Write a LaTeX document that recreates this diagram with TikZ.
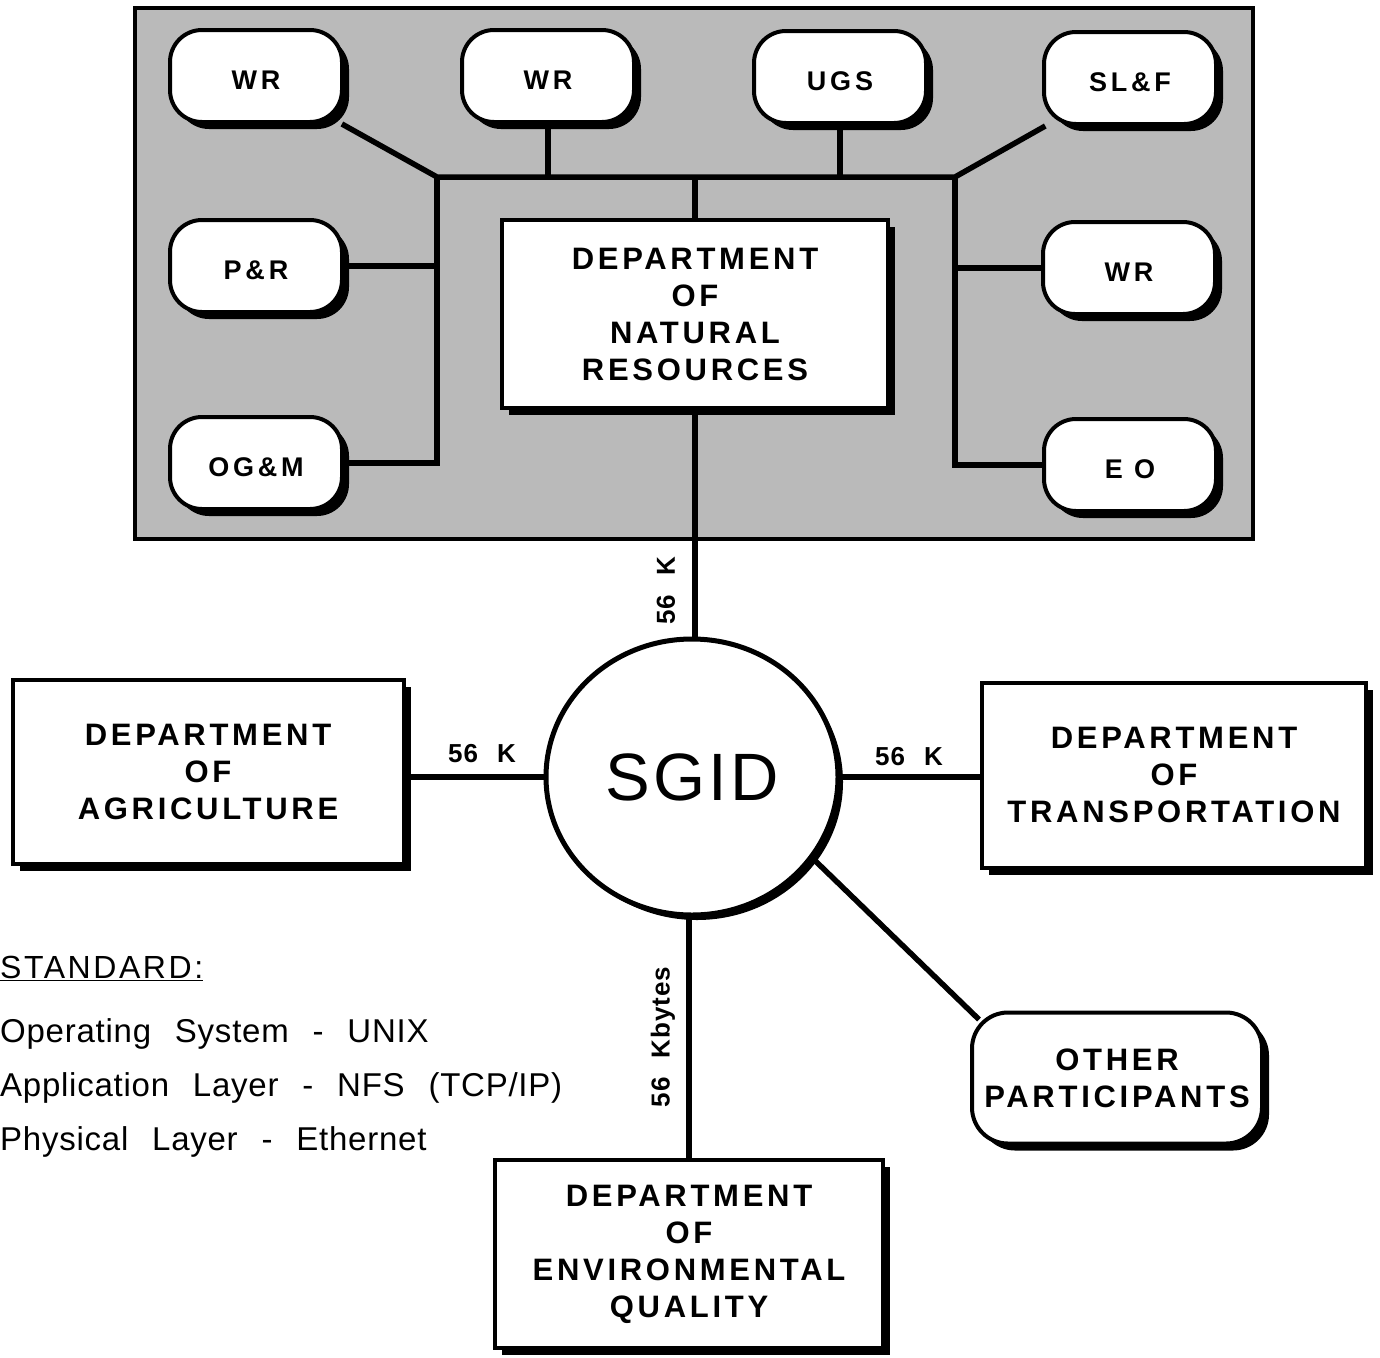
\documentclass[tikz,border=0pt]{standalone}
\usepackage{fontspec}
\setmainfont{Liberation Sans}
\newfontfamily\boxfont[LetterSpace=12]{Liberation Sans Bold}
\newfontfamily\smallfont[LetterSpace=14]{Liberation Sans Bold}
\newfontfamily\numfont[LetterSpace=4,WordSpace=2.3]{Liberation Sans Bold}
\newfontfamily\stdfont[WordSpace=2.4,LetterSpace=2.3]{Liberation Sans}
\newfontfamily\titlefont[LetterSpace=8]{Liberation Sans}
\newfontfamily\bigfont[LetterSpace=5]{Liberation Sans}
\usetikzlibrary{shadows,calc,shapes.geometric}
\begin{document}
\begin{tikzpicture}[x=1pt,y=-1pt,
  shad/.style={drop shadow={shadow xshift=7pt,shadow yshift=-7pt,fill=black,opacity=1}},
  rbox/.style={draw,line width=4pt,fill=white,rounded corners=32pt,minimum width=172pt,minimum height=92pt,inner sep=0pt,text height=27pt,text depth=0pt,shad,font=\smallfont\fontsize{27}{30}\selectfont},
  sqbox/.style={draw,line width=4pt,fill=white,inner sep=0pt,shad,align=center,font=\boxfont\fontsize{31}{37}\selectfont},
  conn/.style={line width=5.5pt},
  lbl/.style={font=\numfont\fontsize{26}{30}\selectfont,inner sep=0pt},
  std/.style={font=\stdfont\fontsize{33}{38}\selectfont,anchor=base west,inner sep=0pt}
]
\useasboundingbox (0,0) rectangle (1380,1357);
% panel
\node[draw,line width=4pt,fill=black!27,minimum width=1118pt,minimum height=531pt,inner sep=0pt] (panel) at (694,273.5) {};
% small boxes
\node[rbox] (wr1) at (256,76) {WR};
\node[rbox] (wr2) at (548,76) {WR};
\node[rbox] (ugs) at (840,77) {UGS};
\node[rbox] (slf) at (1130,78) {SL\&F};
\node[rbox] (pr) at (256,266) {P\&R};
\node[rbox] (wr3) at (1129,268) {WR};
\node[rbox] (ogm) at (256,463) {OG\&M};
\node[rbox] (eo) at (1130,465) {E O};
\node[sqbox,minimum width=386pt,minimum height=188pt] (dnr) at (695,314) {DEPARTMENT\\OF\\NATURAL\\RESOURCES};
% bus
\coordinate (bl) at (437,177);
\coordinate (br) at (955,177);
\draw[conn] (wr1) -- (bl) -- (br) -- (slf);
\draw[conn] (bl) -- (bl |- ogm) -- (ogm);
\draw[conn] (br) -- (br |- eo) -- (eo);
\draw[conn] (pr) -- (pr -| bl);
\draw[conn] (wr3) -- (wr3 -| br);
\draw[conn] (wr2) -- (wr2 |- bl);
\draw[conn] (ugs) -- (ugs |- bl);
\draw[conn] (dnr) -- (dnr |- bl);
% SGID
\node[draw,ellipse,line width=5pt,fill=white,minimum width=292pt,minimum height=276pt,inner sep=0pt,
  drop shadow={shadow xshift=5pt,shadow yshift=-5pt,fill=black,opacity=1},
  font=\bigfont\fontsize{67}{70}\selectfont] (sgid) at (692,777) {SGID};
\draw[conn] (dnr) -- (dnr |- sgid.north);
% departments
\node[sqbox,minimum width=391pt,minimum height=184pt] (agr) at (208,772) {DEPARTMENT\\OF\\AGRICULTURE};
\node[sqbox,minimum width=384pt,minimum height=185pt] (trans) at (1174,775) {DEPARTMENT\\OF\\TRANSPORTATION};
\node[sqbox,rounded corners=36pt,minimum width=290pt,minimum height=131pt] (oth) at (1117,1078) {OTHER\\PARTICIPANTS};
\node[sqbox,minimum width=388pt,minimum height=188pt] (env) at (689,1254) {DEPARTMENT\\OF\\ENVIRONMENTAL\\QUALITY};
\draw[conn] (agr.east |- sgid) -- (sgid);
\draw[conn] (sgid) -- (sgid -| trans.west);
\draw[conn] (sgid.-34) -- ($(oth.north west)+(9,9)$);
\draw[conn] (env) -- (env |- sgid.south);
% labels
\node[lbl,rotate=90] (l1) at (666,591) {56 K};
\node[lbl] (l2) at (482,754) {56 K};
\node[lbl] (l3) at (909,757) {56 K};
\node[lbl,rotate=90] (l4) at (663,1037) {56 Kbytes};
% standard
\node[std,font=\titlefont\fontsize{32}{38}\selectfont] (stdt) at (0,978) {\underline{STANDARD:}};
\node[std] (s1) at (0,1042) {Operating System - UNIX};
\node[std] (s2) at (0,1096) {Application Layer - NFS (TCP/IP)};
\node[std] (s3) at (0,1150) {Physical Layer - Ethernet};
\end{tikzpicture}
\end{document}
